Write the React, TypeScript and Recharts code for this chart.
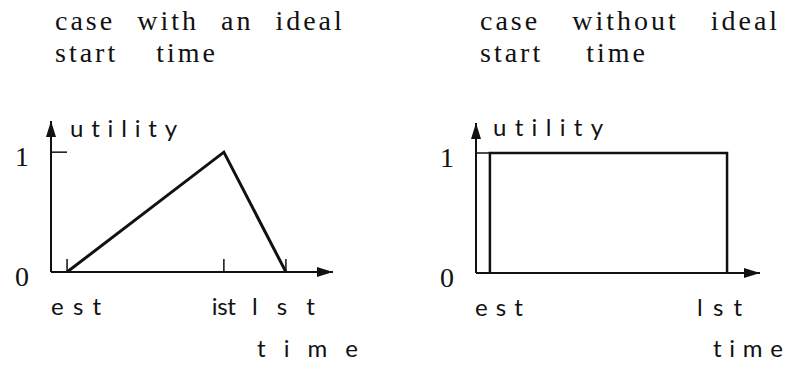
import {Label, Line, LineChart, XAxis, YAxis} from "recharts";

// left panel: utility rises from est to a peak at ist, falls to 0 at lst
const idealTimes = [5.7, 61.3, 83.3];
const idealUtility = [0, 1, 0];
const idealTickNames = ["est", "ist", "lst"];

// right panel: flat utility of 1 between est and lst
const flatTimes = [4.9, 4.9, 88.4, 88.4];
const flatUtility = [0, 1, 1, 0];
const flatTickTimes = [4.9, 88.4];
const flatTickNames = ["est", "lst"];

const utilityTicks = [0, 1];
const utilityTickNames = ["0", "1"];

const leftTitle = ["case with an ideal", "start time"];
const rightTitle = ["case without ideal", "start time"];

const INK = "#111";
const serif = '"Liberation Serif", "Times New Roman", serif';
const sans = 'Lato, "Open Sans", sans-serif';

// Lato joins "ti" into a ligature, which breaks the spaced-out labels
const labelStyle = {
  fontFamily: sans, fontSize: 24, fill: INK,
  fontVariantLigatures: "none" as const, fontFeatureSettings: '"liga" 0, "clig" 0',
};

type Fit = { dx: number, w: number };

type PanelSpec = {
  id: string,
  left: number,
  top: number,
  right: number,
  bottom: number,
  yAxisWidth: number,
  yMax: number,
  yTickLen: number,
  yTickMargin: number,
  lineWidth: number,
  times: number[],
  utility: number[],
  tickTimes: number[],
  tickNames: string[],
  tickFits: Fit[],
  utilityFit: { dx: number, dy: number, w: number },
  timeFit: { dx: number, dy: number, w: number },
};

const panels: PanelSpec[] = [
  {
    id: "arrowIdeal", left: 0, top: 21, right: 57, bottom: 64, yAxisWidth: 51, yMax: 1.26,
    yTickLen: 16, yTickMargin: 45, lineWidth: 3,
    times: idealTimes, utility: idealUtility, tickTimes: idealTimes, tickNames: idealTickNames,
    tickFits: [{dx: -16, w: 50}, {dx: -12, w: 24}, {dx: -34, w: 63}],
    utilityFit: {dx: 19, dy: 16, w: 107},
    timeFit: {dx: -76, dy: 85, w: 101},
  },
  {
    id: "arrowFlat", left: 400, top: 23, right: 30, bottom: 63, yAxisWidth: 76, yMax: 1.25,
    yTickLen: 14, yTickMargin: 43, lineWidth: 2.5,
    times: flatTimes, utility: flatUtility, tickTimes: flatTickTimes, tickNames: flatTickNames,
    tickFits: [{dx: -15, w: 48}, {dx: -30, w: 45}],
    utilityFit: {dx: 17, dy: 13, w: 110},
    timeFit: {dx: -47, dy: 84, w: 70},
  },
];

const Panel = ({p}: { p: PanelSpec }) => {
  const rows = p.times.map((t, i) => ({time: t, utility: p.utility[i]}));
  const marker = `url(#${p.id})`;

  return <div style={{position: "absolute", left: p.left, top: 100}}>
    <LineChart width={390} height={266} data={rows}
               margin={{top: p.top, right: p.right, bottom: p.bottom, left: 0}}>
      <defs>
        <marker id={p.id} viewBox="0 0 16 10" refX={16} refY={5} markerWidth={16} markerHeight={10}
                markerUnits="userSpaceOnUse" orient="auto-start-reverse">
          <path d="M0,0 L16,5 L0,10 z" fill={INK}/>
        </marker>
      </defs>
      <XAxis
        dataKey="time" type="number" domain={[0, 100]} allowDataOverflow
        ticks={p.tickTimes} interval={0} height={30}
        axisLine={{stroke: INK, strokeWidth: 2, markerEnd: marker}}
        tickLine={{stroke: INK, strokeWidth: 1.5}} tickSize={-13} tickMargin={56}
        tick={(t: any) => {
          const fit = p.tickFits[t.index];
          return <text x={t.x + fit.dx} y={t.y} textLength={fit.w} lengthAdjust="spacing" style={labelStyle}>
            {p.tickNames[t.index]}
          </text>;
        }}
      >
        <Label content={({viewBox}: any) =>
          <text x={viewBox.x + viewBox.width + p.timeFit.dx} y={viewBox.y + p.timeFit.dy}
                textLength={p.timeFit.w} lengthAdjust="spacing" style={labelStyle}>time</text>
        }/>
      </XAxis>
      <YAxis
        type="number" domain={[0, p.yMax]} allowDataOverflow ticks={utilityTicks} interval={0}
        width={p.yAxisWidth}
        axisLine={{stroke: INK, strokeWidth: 2, markerStart: marker}}
        tickLine={{stroke: INK, strokeWidth: 1.5}} tickSize={-p.yTickLen} tickMargin={p.yTickMargin}
        tick={(t: any) =>
          <text x={t.x} y={t.y + 14} textAnchor="middle"
                style={{fontFamily: serif, fontSize: 28, fill: INK}}>
            {utilityTickNames[t.index]}
          </text>
        }
      >
        <Label content={({viewBox}: any) =>
          <text x={viewBox.x + viewBox.width + p.utilityFit.dx} y={viewBox.y + p.utilityFit.dy}
                textLength={p.utilityFit.w} lengthAdjust="spacing" style={labelStyle}>utility</text>
        }/>
      </YAxis>
      <Line dataKey="utility" type="linear" stroke={INK} strokeWidth={p.lineWidth}
            dot={false} activeDot={false} isAnimationActive={false}/>
    </LineChart>
  </div>;
};

const Title = ({lines, left, spacing}: { lines: string[], left: number, spacing: number[] }) =>
  <div style={{position: "absolute", left, top: 5}}>
    {lines.map((line, i) =>
      <div key={i} style={{
        fontFamily: serif, fontSize: 28, lineHeight: "32px", letterSpacing: 3,
        wordSpacing: spacing[i], whiteSpace: "pre", color: INK,
      }}>{line}</div>
    )}
  </div>;

export default function App() {
  return <div style={{position: "absolute", left: 0, top: 0, width: 790, height: 366, background: "#fff", overflow: "hidden"}}>
    <Title lines={leftTitle} left={55} spacing={[12, 28]}/>
    <Title lines={rightTitle} left={480} spacing={[22, 33]}/>
    {panels.map(p => <Panel key={p.id} p={p}/>)}
  </div>;
}
